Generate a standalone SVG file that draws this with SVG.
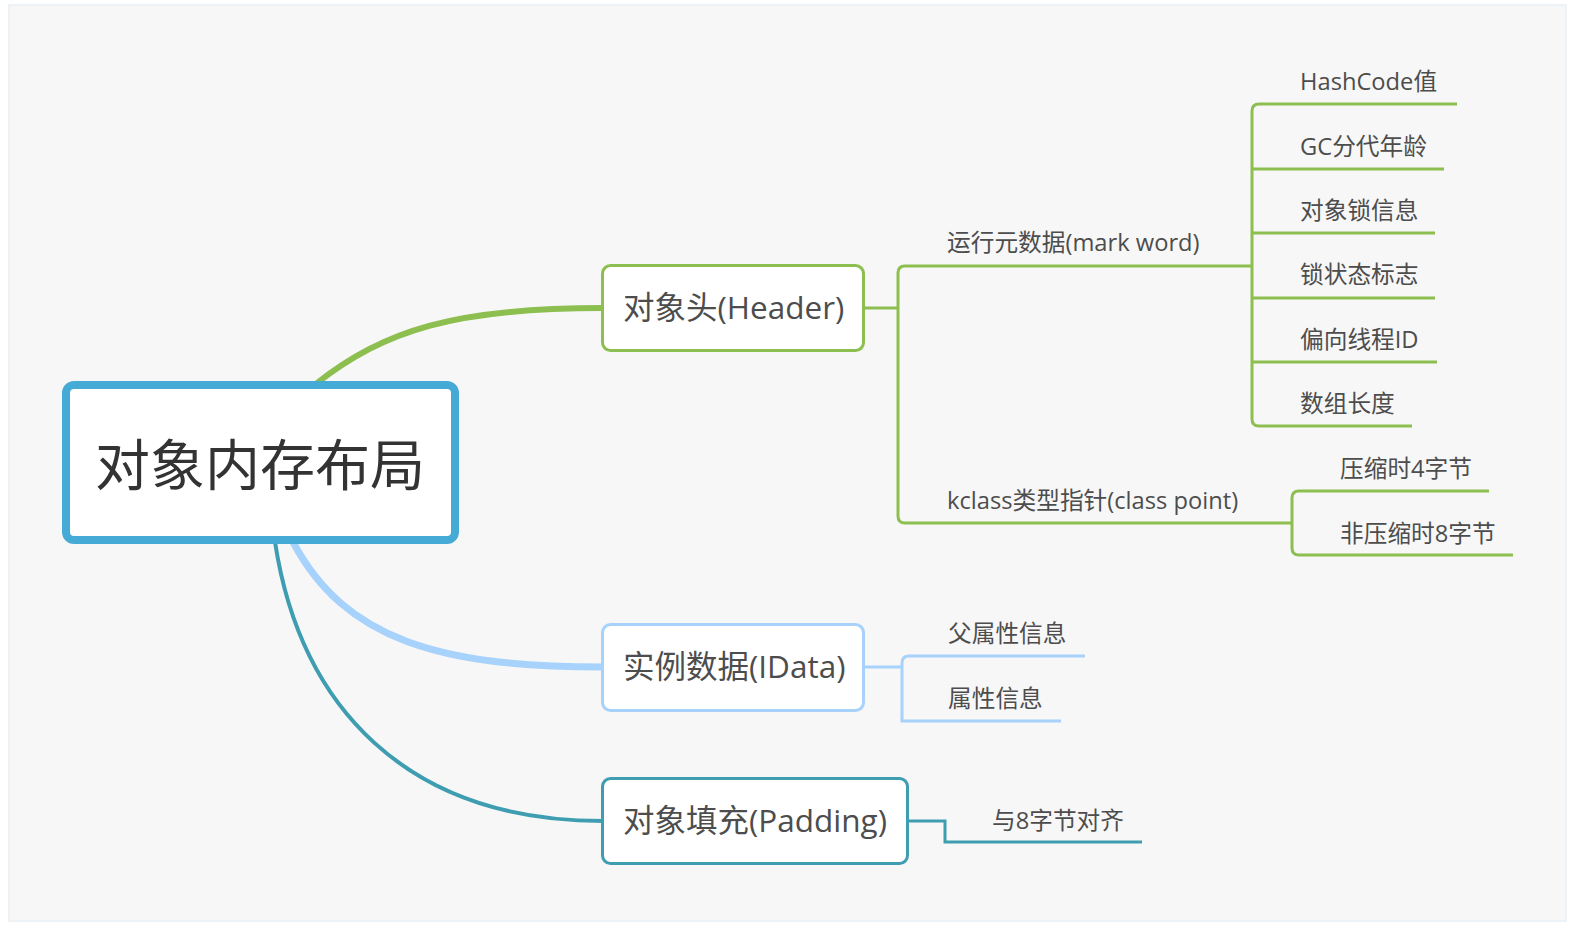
<svg xmlns="http://www.w3.org/2000/svg" width="1576" height="932" viewBox="0 0 1576 932">
<style>
text{font-family:"Open Sans","Noto Sans CJK SC",sans-serif;fill:#4d4d4d}
.lbl{font-size:23.7px}
.main{font-size:31.5px}
.root{font-size:55px;fill:#333}
.g{stroke:#8cbf4f;fill:none;stroke-width:3}
.b{stroke:#a6d2fb;fill:none;stroke-width:3}
.t{stroke:#3e9db0;fill:none;stroke-width:3}
</style>
<rect x="0" y="0" width="1576" height="932" fill="#ffffff"/>
<rect x="9" y="5" width="1557" height="916" fill="#f7f7f7" stroke="#e8f0f4" stroke-width="1.5"/>
<g id="connectors">
<path d="M317,383 C385,330 455,308 603,308" stroke="#8cbf4f" stroke-width="6" fill="none"/>
<path d="M293,542 C345,640 440,667 603,667" stroke="#a6d2fb" stroke-width="7" fill="none"/>
<path d="M275,542 C300,705 405,821 603,821" stroke="#3e9db0" stroke-width="4" fill="none"/>
<path class="g" d="M865,308 H898"/>
<path class="g" d="M898,308 V273 Q898,266 905,266 H1252"/>
<path class="g" d="M898,308 V516 Q898,523 905,523 H1292"/>
<path class="g" d="M1252,266 V111 Q1252,104 1259,104 H1457"/>
<path class="g" d="M1252,266 V419 Q1252,426 1259,426 H1412"/>
<path class="g" d="M1252,169 H1444"/>
<path class="g" d="M1252,233 H1435"/>
<path class="g" d="M1252,298 H1435"/>
<path class="g" d="M1252,362 H1437"/>
<path class="g" d="M1292,523 V498 Q1292,491 1299,491 H1489"/>
<path class="g" d="M1292,523 V548 Q1292,555 1299,555 H1513"/>
<path class="b" d="M865,667 H902"/>
<path class="b" d="M902,667 V663 Q902,656 909,656 H1085"/>
<path class="b" d="M902,667 V721 H1061"/>
<path class="t" d="M909,821 H945 V842 H1142"/>
</g>
<g id="root">
<rect x="66" y="385" width="389" height="155" rx="8" fill="#ffffff" stroke="#45aad6" stroke-width="8"/>
<text class="root" x="260" y="485" text-anchor="middle">对象内存布局</text>
</g>
<g id="header">
<rect x="602.5" y="265.5" width="261" height="85" rx="8" fill="#ffffff" stroke="#8cbf4f" stroke-width="3"/>
<text class="main" x="623" y="319">对象头(Header)</text>
</g>
<g id="markword"><text class="lbl" x="947" y="251">运行元数据(mark word)</text></g>
<g id="kclass"><text class="lbl" x="947" y="509">kclass类型指针(class point)</text></g>
<g id="hashcode"><text class="lbl" x="1300" y="90">HashCode值</text></g>
<g id="gcage"><text class="lbl" x="1300" y="155">GC分代年龄</text></g>
<g id="lockinfo"><text class="lbl" x="1300" y="219">对象锁信息</text></g>
<g id="lockflag"><text class="lbl" x="1300" y="283">锁状态标志</text></g>
<g id="biased"><text class="lbl" x="1300" y="348">偏向线程ID</text></g>
<g id="arrlen"><text class="lbl" x="1300" y="412">数组长度</text></g>
<g id="comp4"><text class="lbl" x="1340" y="477">压缩时4字节</text></g>
<g id="comp8"><text class="lbl" x="1340" y="542">非压缩时8字节</text></g>
<g id="idata">
<rect x="602.5" y="624.5" width="261" height="86" rx="8" fill="#ffffff" stroke="#a6d2fb" stroke-width="3"/>
<text class="main" x="623" y="678">实例数据(IData)</text>
</g>
<g id="parentattr"><text class="lbl" x="948" y="642">父属性信息</text></g>
<g id="attr"><text class="lbl" x="948" y="707">属性信息</text></g>
<g id="padding">
<rect x="602.5" y="778.5" width="305" height="85" rx="8" fill="#ffffff" stroke="#3e9db0" stroke-width="3"/>
<text class="main" x="623" y="832">对象填充(Padding)</text>
</g>
<g id="align8"><text class="lbl" x="992" y="829">与8字节对齐</text></g>
</svg>
